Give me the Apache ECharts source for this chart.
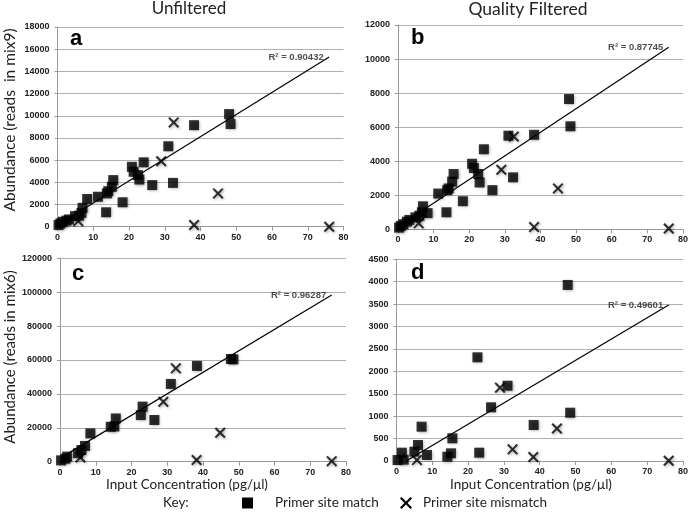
<!DOCTYPE html>
<html><head><meta charset="utf-8">
<script src="https://cdn.jsdelivr.net/npm/echarts@6/dist/echarts.min.js"></script>
<style>html,body{margin:0;padding:0;background:#fff}#c{width:691px;height:522px}</style>
</head><body><div id="c"></div>
<script>
// ---- data (mix9: panels a & b) ----
const mix9MatchX   = [0.3, 0.8, 1.5, 2.5, 3.2, 4.9, 6.0, 6.7, 7.0, 8.3, 11.3, 13.6, 13.8, 14.2, 15.2, 15.6, 18.2, 20.8, 21.3, 22.5, 22.9, 24.1, 26.5, 31.0, 32.3, 38.2, 48.0, 48.4];
const aMatchY      = [150, 300, 450, 550, 650, 950, 1000, 1250, 1700, 2500, 2700, 1300, 3000, 3200, 3600, 4200, 2200, 5400, 4950, 4650, 4250, 5800, 3750, 7250, 3950, 9150, 10150, 9250];
const bMatchY      = [100, 200, 300, 450, 550, 700, 800, 1000, 1350, 950, 2100, 1000, 2300, 2400, 2800, 3250, 1650, 3850, 3600, 3250, 2750, 4700, 2300, 5500, 3050, 5550, 7650, 6050];
const mix9MisX     = [5.8, 29.0, 32.5, 38.2, 44.9, 76];
const aMisY        = [500, 5900, 9400, 150, 3000, 0];
const bMisY        = [350, 3500, 5450, 130, 2400, 50];
// ---- data (mix6: panels c & d) ----
const mix6MatchX   = [0.3, 1.5, 2.0, 5.0, 6.0, 7.0, 8.5, 14.2, 15.2, 15.6, 22.6, 23.1, 26.4, 31.0, 38.3, 47.8, 48.5];
const cMatchY      = [800, 1800, 3000, 5000, 6900, 9300, 16700, 20600, 20800, 25500, 27500, 32500, 24600, 45900, 56500, 60600, 60400];
const dMatchY      = [22, 186, 30, 208, 357, 766, 134, 96, 171, 506, 2313, 186, 1198, 1680, 803, 3928, 1078];
const mix6MisX     = [5.7, 28.9, 32.4, 38.2, 44.8, 76];
const cMisY        = [2500, 35400, 55100, 1000, 17100, 300];
const dMisY        = [20, 1636, 260, 90, 725, 5];
// ---- trend lines (start, end) ----
const trendA = [[0.3, 200], [76, 15300]];
const trendB = [[0.3, 200], [76, 10700]];
const trendC = [[0.3, 2400], [76, 98300]];
const trendD = [[2.7, 0], [76, 3480]];
const r2Labels = ['R² = 0.90432', 'R² = 0.87745', 'R² = 0.96287', 'R² = 0.49601'];
const panelLetters = ['a', 'b', 'c', 'd'];
const yMax = [18000, 12000, 120000, 4500];
const yInterval = [2000, 2000, 20000, 500];

const X_PATH = 'path://M0,13 L13,0 L50,37 L87,0 L100,13 L63,50 L100,87 L87,100 L50,63 L13,100 L0,87 L37,50 Z';
const X_POINTS = [[0,13],[13,0],[50,37],[87,0],[100,13],[63,50],[100,87],[87,100],[50,63],[13,100],[0,87],[37,50]];
const zip = (xs, ys) => xs.map((x, i) => [x, ys[i]]);

const grids = [
  {left: 57.5, top: 27, width: 286, height: 199.7},
  {left: 398, top: 25, width: 289, height: 204.3},
  {left: 60, top: 258.3, width: 286, height: 203.4},
  {left: 396.5, top: 259.3, width: 288.5, height: 201.7}
];
const panels = [
  {match: zip(mix9MatchX, aMatchY), mis: zip(mix9MisX, aMisY), trend: trendA},
  {match: zip(mix9MatchX, bMatchY), mis: zip(mix9MisX, bMisY), trend: trendB},
  {match: zip(mix6MatchX, cMatchY), mis: zip(mix6MisX, cMisY), trend: trendC},
  {match: zip(mix6MatchX, dMatchY), mis: zip(mix6MisX, dMisY), trend: trendD}
];

const tickFont = {fontFamily: 'Liberation Sans', fontWeight: 'bold', fontSize: 9, color: '#222', formatter: v => String(v)};
const xAxis = [], yAxis = [], series = [];
panels.forEach((p, i) => {
  xAxis.push({
    gridIndex: i, type: 'value', min: 0, max: 80, interval: 10,
    axisLine: {show: true, lineStyle: {color: '#999', width: 1}},
    axisTick: {show: true, length: 4, lineStyle: {color: '#999'}},
    axisLabel: Object.assign({margin: 6}, tickFont),
    splitLine: {show: false}
  });
  yAxis.push({
    gridIndex: i, type: 'value', min: 0, max: yMax[i], interval: yInterval[i],
    axisLine: {show: true, lineStyle: {color: '#999', width: 1}},
    axisTick: {show: true, length: 3, lineStyle: {color: '#999'}},
    axisLabel: Object.assign({margin: 8}, tickFont),
    splitLine: {show: true, lineStyle: {color: '#b0b0b0', width: 1}}
  });
  const shadow = {shadowBlur: 3, shadowColor: 'rgba(0,0,0,0.45)', shadowOffsetX: 1, shadowOffsetY: 1};
  series.push({
    type: 'scatter', xAxisIndex: i, yAxisIndex: i, data: p.match,
    symbol: 'rect', symbolSize: 10,
    itemStyle: Object.assign({color: '#000'}, shadow), z: 3
  });
  series.push({
    type: 'scatter', xAxisIndex: i, yAxisIndex: i, data: p.mis,
    symbol: X_PATH, symbolSize: 11,
    itemStyle: Object.assign({color: '#000'}, shadow), z: 3
  });
  series.push({
    type: 'line', xAxisIndex: i, yAxisIndex: i, data: p.trend,
    showSymbol: false, symbol: 'none',
    lineStyle: {color: '#000', width: 1.2}, z: 4, silent: true
  });
  series.push({
    type: 'scatter', xAxisIndex: i, yAxisIndex: i, data: [p.trend[1]],
    symbolSize: 1, itemStyle: {color: 'rgba(0,0,0,0)'}, silent: true, z: 5,
    label: {
      show: true, position: 'left', distance: 5, formatter: r2Labels[i],
      fontFamily: 'Liberation Sans', fontWeight: 'bold', fontSize: 9.5, color: '#222'
    }
  });
});

function txt(text, font, x, y, align, rot) {
  const g = {type: 'text', x: x, y: y,
    style: {text: text, font: font, fill: '#222', align: align || 'center', verticalAlign: 'middle'}};
  if (rot) g.rotation = rot;
  return g;
}
const graphic = [
  txt('Unfiltered', '17px Lato', 189, 9),
  txt('Quality Filtered', '17.5px Lato', 528, 9),
  txt('Abundance (reads  in mix9)', '15.5px Lato', 10, 120, 'center', Math.PI / 2),
  txt('Abundance (reads in mix6)', '15px Lato', 10, 357, 'center', Math.PI / 2),
  txt('Input Concentration (pg/μl)', '13.5px Lato', 187, 485),
  txt('Input Concentration (pg/μl)', '13.5px Lato', 531, 485),
  txt('Key:', '13.5px Lato', 163, 503, 'left'),
  {type: 'rect', shape: {x: 242, y: 497.5, width: 11, height: 11}, style: {fill: '#000'}},
  txt('Primer site match', '13.5px Lato', 275, 503, 'left'),
  {type: 'polygon', shape: {points: X_POINTS.map(p => [400 + p[0] * 0.12, 497 + p[1] * 0.12])}, style: {fill: '#000'}},
  txt('Primer site mismatch', '13.5px Lato', 423, 503, 'left')
];
const letterPos = [[70, 39], [411, 38], [72, 274], [411, 273]];
panelLetters.forEach((l, i) => {
  const g = txt(l, 'bold 22px Liberation Sans', letterPos[i][0], letterPos[i][1], 'left');
  g.style.fill = '#000';
  graphic.push(g);
});

const chart = echarts.init(document.getElementById('c'), null, {renderer: 'canvas'});
chart.setOption({
  animation: false,
  grid: grids,
  xAxis: xAxis, yAxis: yAxis, series: series, graphic: graphic
});
</script>
</body></html>
